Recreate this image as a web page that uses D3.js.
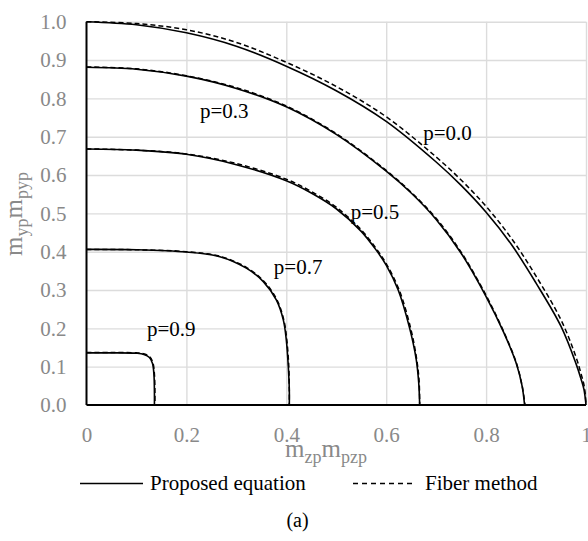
<!DOCTYPE html>
<html>
<head>
<meta charset="utf-8">
<script src="https://cdn.jsdelivr.net/npm/d3@7"></script>
<style>
  body { margin: 0; background: #fff; }
  svg { display: block; }
  svg text { font-family: "Liberation Serif", "DejaVu Serif", "Times New Roman", serif; }
</style>
</head>
<body>
<svg id="chart"></svg>
<script>
const xTicks = [0, 0.2, 0.4, 0.6, 0.8, 1];
const xTickLabels = ["0", "0.2", "0.4", "0.6", "0.8", "1"];
const yTicks = [0, 0.1, 0.2, 0.3, 0.4, 0.5, 0.6, 0.7, 0.8, 0.9, 1.0];
const yTickLabels = ["0.0", "0.1", "0.2", "0.3", "0.4", "0.5", "0.6", "0.7", "0.8", "0.9", "1.0"];

const seriesNames = ["Proposed equation", "Fiber method"];
const curveLabels = ["p=0.0", "p=0.3", "p=0.5", "p=0.7", "p=0.9"];

// proposed equation, one list of [mz, my] per p
const proposedP00 = [[0, 1.0], [0.1, 0.992], [0.2, 0.971], [0.3, 0.936], [0.4, 0.884], [0.5, 0.820], [0.6, 0.740], [0.7, 0.634], [0.75, 0.573], [0.8, 0.503], [0.85, 0.42], [0.9, 0.318], [0.95, 0.205], [0.98, 0.108], [0.99, 0.068], [0.996, 0.04], [1.0, 0]];
const proposedP03 = [[0, 0.881], [0.1, 0.876], [0.2, 0.858], [0.3, 0.826], [0.4, 0.778], [0.5, 0.706], [0.6, 0.610], [0.65, 0.553], [0.7, 0.484], [0.75, 0.396], [0.8, 0.283], [0.835, 0.19], [0.86, 0.11], [0.872, 0.05], [0.877, 0]];
const proposedP05 = [[0, 0.668], [0.1, 0.665], [0.2, 0.654], [0.3, 0.627], [0.4, 0.585], [0.45, 0.553], [0.5, 0.512], [0.55, 0.453], [0.58, 0.404], [0.6, 0.365], [0.624, 0.3], [0.647, 0.2], [0.66, 0.12], [0.665, 0.06], [0.667, 0]];
const proposedP07 = [[0, 0.406], [0.1, 0.405], [0.2, 0.399], [0.267, 0.387], [0.32, 0.357], [0.354, 0.322], [0.38, 0.274], [0.394, 0.222], [0.4, 0.17], [0.404, 0.1], [0.406, 0.04], [0.406, 0]];
const proposedP09 = [[0, 0.136], [0.05, 0.136], [0.1, 0.135], [0.115, 0.132], [0.126, 0.124], [0.132, 0.109], [0.135, 0.08], [0.136, 0.03], [0.136, 0]];

// fiber method
const fiberP00 = [[0, 1.0], [0.1, 0.995], [0.2, 0.979], [0.3, 0.946], [0.4, 0.894], [0.5, 0.831], [0.6, 0.752], [0.7, 0.647], [0.75, 0.587], [0.8, 0.518], [0.85, 0.436], [0.9, 0.336], [0.95, 0.222], [0.98, 0.125], [0.99, 0.082], [0.997, 0.045], [1.0, 0]];
const fiberP03 = [[0, 0.882], [0.1, 0.877], [0.2, 0.859], [0.3, 0.828], [0.4, 0.780], [0.5, 0.708], [0.6, 0.612], [0.65, 0.555], [0.7, 0.487], [0.75, 0.399], [0.8, 0.286], [0.835, 0.192], [0.86, 0.112], [0.872, 0.051], [0.878, 0]];
const fiberP05 = [[0, 0.668], [0.1, 0.665], [0.2, 0.655], [0.3, 0.630], [0.4, 0.589], [0.45, 0.557], [0.5, 0.516], [0.55, 0.457], [0.58, 0.408], [0.6, 0.369], [0.626, 0.3], [0.649, 0.2], [0.661, 0.12], [0.666, 0.06], [0.667, 0]];
const fiberP07 = [[0, 0.406], [0.1, 0.405], [0.2, 0.400], [0.267, 0.388], [0.32, 0.359], [0.355, 0.323], [0.381, 0.275], [0.395, 0.222], [0.401, 0.17], [0.405, 0.1], [0.406, 0.04], [0.406, 0]];
const fiberP09 = [[0, 0.137], [0.05, 0.137], [0.1, 0.136], [0.116, 0.133], [0.127, 0.125], [0.133, 0.110], [0.136, 0.08], [0.137, 0.03], [0.137, 0]];

const proposed = [proposedP00, proposedP03, proposedP05, proposedP07, proposedP09];
const fiber = [fiberP00, fiberP03, fiberP05, fiberP07, fiberP09];

const W = 588, H = 541;
const margin = { top: 21.7, right: 2, bottom: 136, left: 86.5 };
const width = W - margin.left - margin.right;
const height = H - margin.top - margin.bottom;
const serif = '"Liberation Serif", "DejaVu Serif", "Times New Roman", serif';

const root = d3.select("#chart").attr("width", W).attr("height", H);
root.append("rect").attr("width", W).attr("height", H).attr("fill", "#fff");

const svg = root.append("g")
  .attr("transform", `translate(${margin.left}, ${margin.top})`);

const xScale = d3.scaleLinear().domain([0, 1]).range([0, width]);
const yScale = d3.scaleLinear().domain([0, 1]).range([height, 0]);

const gray = "#898989";
const gridColor = "#dcdcdc";

// gridlines
svg.append("g")
  .attr("class", "x-grid")
  .attr("transform", `translate(0, ${height})`)
  .call(d3.axisBottom(xScale).tickValues(xTicks.slice(1)).tickSize(-height).tickFormat(""))
  .call(g => g.select(".domain").remove())
  .call(g => g.selectAll("line").attr("stroke", gridColor).attr("stroke-width", 1.4));

svg.append("g")
  .attr("class", "y-grid")
  .call(d3.axisLeft(yScale).tickValues(yTicks.slice(1)).tickSize(-width).tickFormat(""))
  .call(g => g.select(".domain").remove())
  .call(g => g.selectAll("line").attr("stroke", gridColor).attr("stroke-width", 1.4));

// axes with labels
svg.append("g")
  .attr("id", "x-axis")
  .attr("transform", `translate(0, ${height})`)
  .call(d3.axisBottom(xScale).tickValues(xTicks).tickSize(0).tickPadding(22)
    .tickFormat((d, i) => xTickLabels[i]))
  .attr("font-family", serif)
  .call(g => g.select(".domain").remove())
  .call(g => g.selectAll("text").attr("fill", gray).style("font-size", "21px")
    .attr("dy", "0.71em"));

svg.append("g")
  .attr("id", "y-axis")
  .call(d3.axisLeft(yScale).tickValues(yTicks).tickSize(0).tickPadding(20)
    .tickFormat((d, i) => yTickLabels[i]))
  .attr("font-family", serif)
  .call(g => g.select(".domain").remove())
  .call(g => g.selectAll("text").attr("fill", gray).style("font-size", "21px"));

// axis lines
svg.append("line")
  .attr("x1", xScale(0)).attr("x2", xScale(1))
  .attr("y1", yScale(0)).attr("y2", yScale(0))
  .attr("stroke", "#000").attr("stroke-width", 2);
svg.append("line")
  .attr("x1", xScale(0)).attr("x2", xScale(0))
  .attr("y1", yScale(0)).attr("y2", yScale(1))
  .attr("stroke", "#000").attr("stroke-width", 2);

// curves
const line = d3.line()
  .x(d => xScale(d[0]))
  .y(d => yScale(d[1]))
  .curve(d3.curveCatmullRom.alpha(0.5));

svg.selectAll(".fiber")
  .data(fiber)
  .enter()
  .append("path")
  .attr("class", "fiber")
  .attr("d", line)
  .attr("fill", "none")
  .attr("stroke", "#000")
  .attr("stroke-width", 1.5)
  .attr("stroke-dasharray", "5,3");

svg.selectAll(".proposed")
  .data(proposed)
  .enter()
  .append("path")
  .attr("class", "proposed")
  .attr("d", line)
  .attr("fill", "none")
  .attr("stroke", "#000")
  .attr("stroke-width", 1.6);

// p labels, anchored at their left baseline
const labelAt = [[0.674, 0.691], [0.227, 0.750], [0.529, 0.485], [0.375, 0.341], [0.121, 0.180]];
svg.selectAll(".p-label")
  .data(curveLabels)
  .enter()
  .append("text")
  .attr("class", "p-label")
  .attr("x", (d, i) => xScale(labelAt[i][0]))
  .attr("y", (d, i) => yScale(labelAt[i][1]))
  .attr("fill", "#000")
  .style("font-size", "21px")
  .text(d => d);

// axis titles
const xTitle = root.append("text")
  .attr("x", 326)
  .attr("y", 457)
  .attr("text-anchor", "middle")
  .attr("fill", gray)
  .style("font-size", "25px");
xTitle.append("tspan").text("m");
xTitle.append("tspan").attr("dy", 6).style("font-size", "18px").text("zp");
xTitle.append("tspan").attr("dy", -6).text("m");
xTitle.append("tspan").attr("dy", 6).style("font-size", "18px").text("pzp");

const yTitle = root.append("text")
  .attr("transform", "translate(21.5, 214) rotate(-90)")
  .attr("text-anchor", "middle")
  .attr("fill", gray)
  .style("font-size", "25px");
yTitle.append("tspan").text("m");
yTitle.append("tspan").attr("dy", 6).style("font-size", "18px").text("yp");
yTitle.append("tspan").attr("dy", -6).text("m");
yTitle.append("tspan").attr("dy", 6).style("font-size", "18px").text("pyp");

// legend
const legend = root.append("g").attr("class", "legend");
legend.append("line")
  .attr("x1", 80).attr("x2", 143).attr("y1", 483.5).attr("y2", 483.5)
  .attr("stroke", "#000").attr("stroke-width", 1.5);
legend.append("text")
  .attr("x", 150).attr("y", 490)
  .style("font-size", "21px")
  .text(seriesNames[0]);
legend.append("line")
  .attr("x1", 353).attr("x2", 416).attr("y1", 483.5).attr("y2", 483.5)
  .attr("stroke", "#000").attr("stroke-width", 1.5)
  .attr("stroke-dasharray", "5,4");
legend.append("text")
  .attr("x", 425).attr("y", 490)
  .style("font-size", "21px")
  .text(seriesNames[1]);

// caption
root.append("text")
  .attr("x", 297.5).attr("y", 527)
  .attr("text-anchor", "middle")
  .style("font-size", "20px")
  .text("(a)");
</script>
</body>
</html>
